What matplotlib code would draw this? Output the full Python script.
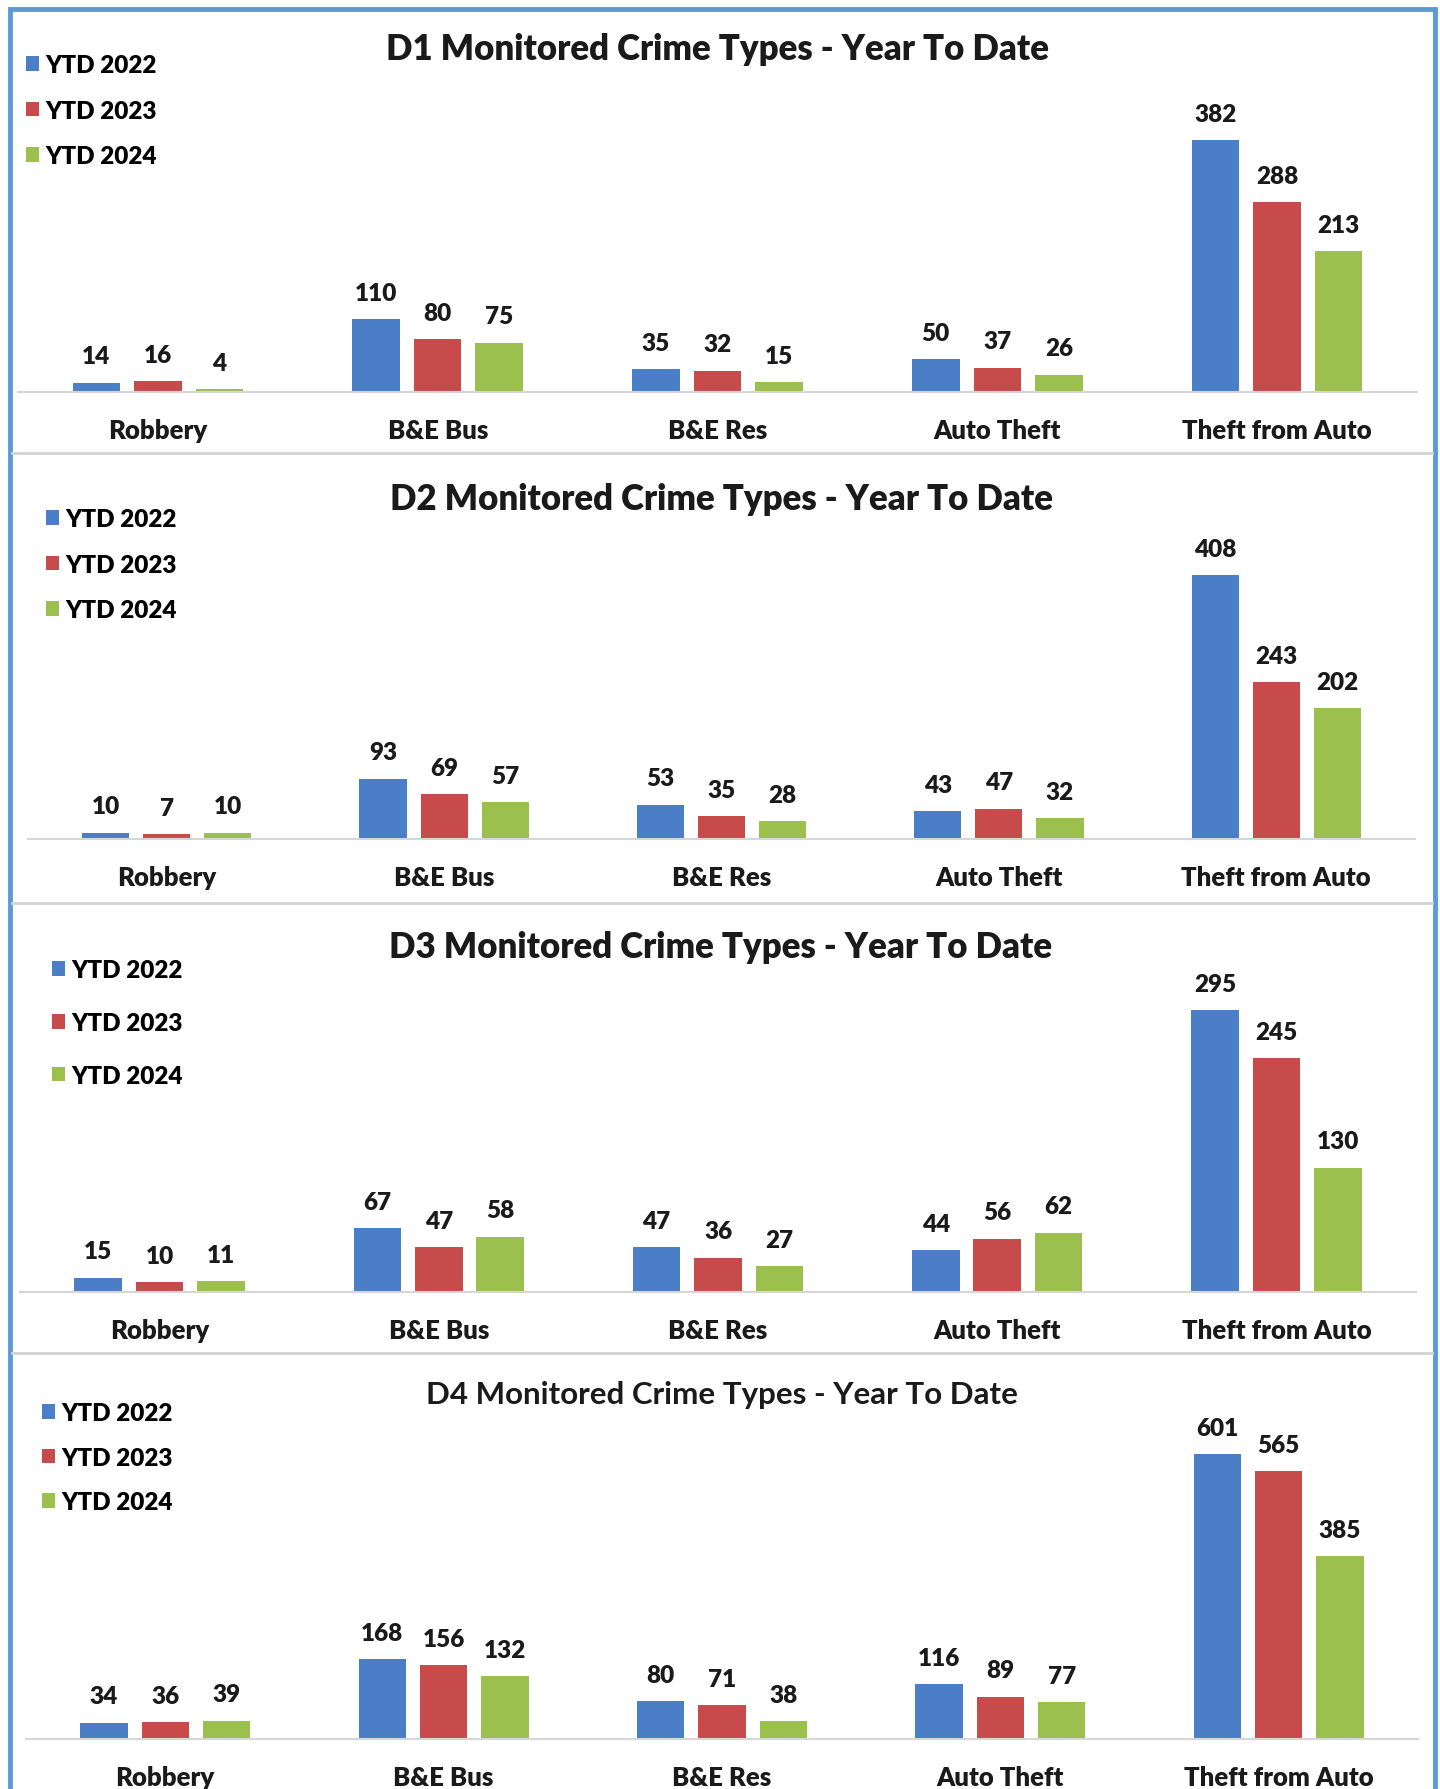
import numpy as np
import matplotlib.pyplot as plt
from matplotlib.patches import Rectangle, Patch
from matplotlib.lines import Line2D

plt.rcParams["font.family"] = ["Lato", "DejaVu Sans"]

categories = ["Robbery", "B&E Bus", "B&E Res", "Auto Theft", "Theft from Auto"]
series_names = ["YTD 2022", "YTD 2023", "YTD 2024"]
titles = [
    "D1 Monitored Crime Types - Year To Date",
    "D2 Monitored Crime Types - Year To Date",
    "D3 Monitored Crime Types - Year To Date",
    "D4 Monitored Crime Types - Year To Date",
]

d1_2022 = [14, 110, 35, 50, 382]
d1_2023 = [16, 80, 32, 37, 288]
d1_2024 = [4, 75, 15, 26, 213]

d2_2022 = [10, 93, 53, 43, 408]
d2_2023 = [7, 69, 35, 47, 243]
d2_2024 = [10, 57, 28, 32, 202]

d3_2022 = [15, 67, 47, 44, 295]
d3_2023 = [10, 47, 36, 56, 245]
d3_2024 = [11, 58, 27, 62, 130]

d4_2022 = [34, 168, 80, 116, 601]
d4_2023 = [36, 156, 71, 89, 565]
d4_2024 = [39, 132, 38, 77, 385]

panels = [
    [d1_2022, d1_2023, d1_2024],
    [d2_2022, d2_2023, d2_2024],
    [d3_2022, d3_2023, d3_2024],
    [d4_2022, d4_2023, d4_2024],
]

colors = ["#4A7EC6", "#C84B4B", "#9BC04E"]

W, H = 1440, 1790
fig = plt.figure(figsize=(W / 100, H / 100), dpi=100)
fig.patch.set_facecolor("white")


def rect(left, top, right, bottom):
    return [left / W, 1 - bottom / H, (right - left) / W, (bottom - top) / H]


# layout in pixels (left, right, baseline), y-axis top, title, legend spot
ax_lr = [(18, 1417), (28, 1415), (20, 1416), (26, 1418)]
baselines = [393, 840, 1293, 1740]
ymax = [485, 495, 335, 675]
title_y = [49, 500, 948, 1395]
title_x = [718, 721, 721, 722]
legend_xy = [(26, 55), (46, 509), (52, 960), (42, 1403)]
legend_gap = [0.97, 0.97, 1.27, 0.93]

x = np.arange(len(categories))
width = 0.17
offsets = [-0.22, 0.0, 0.22]

for i, data in enumerate(panels):
    left, right = ax_lr[i]
    base = baselines[i]
    ax = fig.add_axes(rect(left, base - 320, right, base))
    for j, vals in enumerate(data):
        bars = ax.bar(x + offsets[j], vals, width, color=colors[j], label=series_names[j])
        for b, v in zip(bars, vals):
            ax.annotate(str(v), (b.get_x() + b.get_width() / 2, v),
                        xytext=(0, 19), textcoords="offset points",
                        ha="center", va="center", fontsize=17.5,
                        fontweight="heavy", color="#1a1a1a")
    ax.set_xlim(-0.5, len(categories) - 0.5)
    ax.set_ylim(0, ymax[i])
    ax.set_xticks(x)
    ax.set_xticklabels(categories, fontsize=18.5, fontweight="heavy", color="#1a1a1a")
    ax.tick_params(axis="x", length=0, pad=19)
    ax.set_yticks([])
    for s in ["top", "left", "right"]:
        ax.spines[s].set_visible(False)
    ax.spines["bottom"].set_color("#d6d6d6")
    ax.spines["bottom"].set_linewidth(1.5)
    ax.patch.set_alpha(0)

    fig.text(title_x[i] / W, 1 - title_y[i] / H, titles[i], ha="center", va="center",
             fontsize=25 if i < 3 else 22.5,
             fontweight="heavy" if i < 3 else "bold", color="#1a1a1a")

    handles = [Patch(facecolor=c, edgecolor="none") for c in colors]
    lx, ly = legend_xy[i]
    fig.legend(handles, series_names, loc="upper left",
               bbox_to_anchor=(lx / W, 1 - ly / H), frameon=False,
               prop={"size": 17.5, "weight": "heavy"}, handlelength=0.55,
               handleheight=0.55, handletextpad=0.25, labelspacing=legend_gap[i],
               borderpad=0, borderaxespad=0)

# separators between panels
for y in [454, 904, 1354]:
    fig.add_artist(Line2D([12 / W, 1432 / W], [1 - y / H, 1 - y / H],
                          color="#d3d3d3", linewidth=2, transform=fig.transFigure))

# outer blue frame
fig.add_artist(Rectangle((10 / W, -0.01), (1425 / W), 1 - 10 / H + 0.01,
                         fill=False, edgecolor="#5B9BD5", linewidth=3.5,
                         transform=fig.transFigure))

fig.savefig("out.png", dpi=100)
